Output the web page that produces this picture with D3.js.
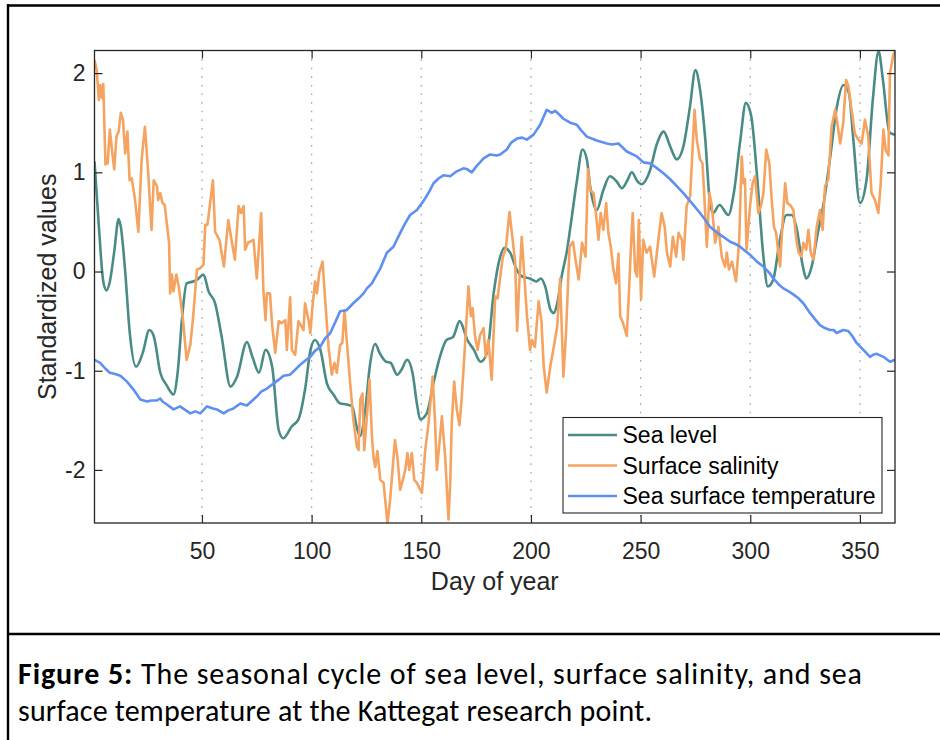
<!DOCTYPE html>
<html>
<head>
<meta charset="utf-8">
<script src="https://cdn.jsdelivr.net/npm/d3@7/dist/d3.min.js"></script>
<style>
  body { margin: 0; background: #fff; }
  svg { display: block; }
</style>
</head>
<body>
<svg id="fig" width="940" height="740"></svg>
<script>
// ---- data: [day of year, standardized value] ----
const seriesNames = ["Sea level", "Surface salinity", "Sea surface temperature"];
const xTicks = [50, 100, 150, 200, 250, 300, 350];
const yTicks = [-2, -1, 0, 1, 2];

const seaLevel = [
  [1,1.11],[3,0.45],[5,-0.1],[6.5,-0.19],[8,-0.1],[10,0.2],[12,0.53],[13,0.45],[15,0.0],
  [17,-0.6],[20,-0.96],[23,-0.82],[26,-0.59],[28,-0.65],[31,-1.02],[34,-1.15],[37,-1.24],
  [39,-1.0],[41,-0.45],[43,-0.12],[46,-0.10],[48,-0.08],[50.7,-0.03],[53,-0.20],[56,-0.32],
  [59,-0.66],[63,-1.16],[66,-1.06],[70.5,-0.71],[73,-0.86],[76,-1.02],[79,-0.79],[82,-0.96],
  [85,-1.6],[87,-1.68],[91,-1.56],[94,-1.49],[97,-1.19],[99.5,-0.79],[101.5,-0.69],[104,-0.79],
  [107,-1.13],[110,-1.24],[113,-1.33],[116,-1.34],[118.5,-1.36],[120.5,-1.56],[122,-1.66],
  [124.5,-1.39],[126.5,-0.96],[129,-0.73],[131,-0.82],[134,-0.91],[136,-0.92],[139,-1.04],
  [141,-0.99],[143.5,-0.89],[146,-1.02],[148,-1.33],[149.5,-1.49],[152.5,-1.43],[155.5,-1.13],
  [158.5,-0.86],[161.5,-0.69],[164.5,-0.66],[167.5,-0.50],[171,-0.69],[174,-0.79],[177,-0.91],
  [180,-0.82],[183,-0.22],[186,0.15],[188,0.24],[190.5,0.19],[193.5,0.02],[196,-0.05],
  [199.5,-0.07],[202.5,-0.10],[204.5,-0.07],[206.5,-0.15],[209,-0.39],[210.5,-0.42],[212,-0.32],
  [214,-0.05],[216.5,0.22],[218,0.45],[221,0.92],[223.5,1.23],[225.5,1.13],[227,0.86],[230,0.62],
  [233,0.82],[236,0.96],[239,0.91],[241.5,0.84],[244,0.92],[246,1.00],[248.5,0.91],[250.5,0.88],
  [254,1.00],[257.5,1.29],[260.5,1.41],[263.5,1.26],[266.5,1.13],[269.5,1.26],[272.5,1.66],
  [275,2.03],[277,1.85],[279.5,1.33],[281.5,0.72],[283,0.59],[286,0.67],[290,0.57],[292.5,0.79],
  [295.5,1.33],[298,1.70],[300.5,1.56],[303,0.99],[306,0.15],[308,-0.15],[310.5,-0.08],
  [313.5,0.32],[316.5,0.57],[319,0.57],[321,0.45],[324,0.05],[325.5,-0.07],[328,0.05],
  [330.5,0.35],[333.5,0.69],[336.5,1.16],[339.5,1.66],[342.5,1.88],[345,1.80],[347,1.33],
  [350,0.69],[353,0.92],[356,1.76],[358.5,2.22],[360.5,1.93],[363.5,1.40],[366,1.38]
];

const salinity = [
  [1,2.13],[2,2.03],[3,1.73],[3.6,1.88],[4.4,1.75],[5,1.89],[6,1.08],[7,1.09],[8,1.43],[9,1.22],
  [10,1.03],[11,1.36],[12,1.41],[13,1.60],[14,1.53],[15,1.19],[16,1.41],[17,0.92],[18,0.94],
  [19.5,0.72],[21,0.40],[22.5,1.13],[24,1.46],[25.5,0.99],[27,0.42],[28,0.92],[29.5,0.86],
  [30,0.72],[31,0.79],[32,0.69],[33,0.67],[35,0.29],[35.5,-0.22],[36.3,-0.03],[37,-0.20],
  [38.3,-0.03],[39.4,-0.15],[40,-0.25],[41.5,-0.52],[43,-0.89],[44.7,-0.74],[46,-0.45],
  [47.7,0.02],[49,0.03],[50.7,0.07],[51.5,0.47],[52.5,0.47],[55,0.92],[56,0.40],[58,0.32],
  [60,0.05],[62,0.52],[63.7,0.29],[65,0.12],[66.7,0.66],[67.8,0.59],[69,0.66],[69.7,0.22],
  [71,0.29],[73.5,0.32],[75,-0.07],[77,0.59],[78,-0.19],[79,-0.49],[79.6,-0.22],[81,-0.22],
  [82,-0.54],[83.4,-0.82],[85,-0.50],[86.4,-0.52],[88,-0.49],[88.7,-0.79],[90.2,-0.26],
  [91,-0.79],[92.5,-0.84],[94,-0.5],[96.3,-0.59],[97,-0.32],[98.6,-0.49],[99.4,-0.62],
  [100.4,-0.35],[101.6,-0.10],[102.4,-0.22],[103.6,0.0],[105,0.10],[106.2,-0.29],[107.7,-0.76],
  [109.2,-1.04],[110.4,-0.92],[111.5,-1.02],[113,-0.74],[114,-0.72],[115,-0.39],[116,-0.69],
  [117.6,-1.13],[119,-1.49],[120.6,-1.76],[121.4,-1.80],[122.2,-1.29],[123.2,-1.23],[124,-1.80],
  [125.2,-1.46],[126.4,-1.09],[127.5,-1.66],[128.2,-1.87],[129,-1.97],[130,-1.81],[131.3,-2.10],
  [132.8,-2.13],[134.6,-2.54],[135.8,-2.30],[137,-1.97],[138,-1.70],[139.1,-1.87],[140.4,-2.20],
  [141.6,-2.10],[142.7,-2.00],[143.7,-1.83],[144.5,-2.0],[145.7,-1.83],[146.8,-2.1],[148,-2.13],
  [149.5,-2.20],[150.3,-2.23],[151.8,-1.80],[153.3,-1.53],[155.2,-1.06],[156.3,-1.53],
  [157.1,-2.00],[158.3,-1.73],[159.4,-1.46],[160.9,-1.87],[162.4,-2.50],[163.2,-2.13],
  [163.9,-1.53],[165,-1.11],[166.2,-1.39],[167.4,-1.55],[168.4,-1.29],[170,-0.72],[171.5,-0.15],
  [172.6,-0.45],[173.4,-0.37],[174.5,-0.65],[175.7,-0.79],[176.8,-0.64],[178.4,-0.57],
  [179.4,-0.86],[180.6,-0.69],[182.1,-1.09],[183.7,-0.25],[184.8,-0.27],[186,-0.05],
  [187.2,0.15],[188.5,0.22],[190.2,0.60],[191.3,0.39],[192.8,0.10],[193.7,-0.60],[194.5,-0.20],
  [195.8,0.35],[197,-0.05],[198.2,-0.45],[199.6,-0.79],[200.5,-0.69],[201.8,-0.76],[203.5,-0.30],
  [204.8,-0.50],[205.8,-0.95],[207.2,-1.22],[208.8,-0.96],[210.5,-0.75],[212,-0.55],[213.3,-0.07],
  [214.8,-1.06],[216,-0.62],[217.6,0.25],[219.2,0.30],[220.3,0.12],[221.8,-0.08],[223.3,0.29],
  [224.9,0.15],[226,1.03],[227.1,0.82],[228.6,0.79],[229.8,0.55],[230.8,0.32],[231.8,0.59],
  [233,0.42],[234.3,0.69],[235.3,0.39],[236.4,0.25],[237.6,0.02],[238.8,-0.12],[239.9,0.18],
  [240.7,-0.45],[242,-0.52],[243.7,-0.65],[244.5,-0.30],[245.5,0.20],[246.4,0.59],[247.5,0.01],
  [248.4,-0.05],[249.2,0.52],[250.2,-0.28],[251.2,0.32],[252.7,0.19],[254.3,0.25],[256.2,-0.05],
  [258,0.30],[259.6,0.59],[261,0.45],[262,0.19],[263.5,0.05],[264.7,0.35],[266.2,0.15],
  [267.3,0.39],[268.8,0.32],[269.5,0.12],[271,0.66],[272.6,0.76],[274.6,1.63],[275.6,1.33],
  [277.1,1.13],[278.2,1.09],[278.9,0.82],[280.2,0.25],[281.4,0.79],[282.5,0.66],[284,0.29],
  [285.5,0.45],[287,0.15],[288.5,0.05],[289.3,0.19],[290.3,0.02],[291.7,0.10],[293.5,-0.10],
  [295,0.32],[296.1,1.16],[296.9,0.89],[297.6,0.93],[298.3,0.22],[299.9,0.66],[301.1,0.89],
  [302.2,0.96],[303.7,0.59],[304.9,0.66],[306,0.79],[307.3,1.23],[308.7,1.09],[309.8,0.72],
  [310.8,0.45],[311.8,0.39],[312.8,0.19],[313.6,0.05],[314.5,0.40],[315.9,0.89],[316.9,0.69],
  [318.2,0.67],[319.7,0.62],[321,0.32],[322.1,0.19],[323.3,0.15],[324.2,0.29],[325.5,0.22],
  [326.5,0.42],[327.6,0.19],[328.8,0.12],[330.3,0.45],[331.8,0.62],[333,0.42],[334.1,0.86],
  [335.6,0.93],[337.1,1.46],[338.7,1.63],[339.7,1.50],[341,1.29],[342.4,1.50],[343.7,1.93],
  [344.7,1.87],[346.2,1.63],[347.7,1.39],[349.3,1.33],[350.8,1.29],[352.3,1.53],[353.8,1.36],
  [355.3,0.79],[356.9,0.72],[358.4,0.59],[359.5,0.89],[360.7,1.43],[361.8,1.22],[363,1.17],
  [363.7,2.00],[365.2,2.18],[366,2.22]
];

const temperature = [
  [1,-0.89],[3.6,-0.92],[6,-0.98],[8,-1.02],[10,-1.03],[12.8,-1.05],[15.8,-1.11],[18.8,-1.19],
  [21.9,-1.29],[24.9,-1.31],[27,-1.30],[29.5,-1.30],[31,-1.28],[32,-1.31],[34,-1.34],[37,-1.39],
  [40,-1.36],[42,-1.39],[44.7,-1.43],[47,-1.41],[49.2,-1.43],[52.3,-1.36],[55,-1.38],[56.8,-1.39],
  [59.9,-1.43],[62,-1.40],[64.4,-1.38],[67.5,-1.33],[70.5,-1.35],[73,-1.30],[75,-1.26],[77,-1.21],
  [79.6,-1.18],[82.6,-1.13],[85,-1.09],[87.2,-1.05],[90.2,-1.04],[92.5,-0.99],[94.8,-0.94],
  [97,-0.90],[99.4,-0.86],[101.5,-0.80],[103.9,-0.76],[106,-0.68],[108.5,-0.62],[111,-0.50],
  [113,-0.40],[116,-0.39],[119,-0.32],[121.5,-0.27],[123.7,-0.22],[125.2,-0.17],[127.5,-0.12],
  [129.5,-0.04],[131.3,0.03],[134.3,0.19],[137.3,0.25],[140.4,0.39],[142.5,0.48],[144.9,0.57],
  [148,0.62],[151,0.71],[153.5,0.80],[155.6,0.89],[158,0.94],[160.1,0.97],[163.2,0.96],
  [166.2,1.01],[169.2,1.04],[171,1.03],[173,1.00],[175.5,1.07],[178.4,1.14],[181.4,1.18],
  [184.4,1.17],[186,1.18],[189,1.23],[191,1.30],[193.6,1.34],[196,1.35],[198.1,1.33],[201.2,1.38],
  [204.2,1.48],[207.2,1.63],[209.5,1.60],[211,1.62],[213,1.58],[214.8,1.54],[217.9,1.50],
  [220.9,1.48],[223,1.42],[225.5,1.36],[230,1.32],[234.6,1.29],[237,1.28],[239.9,1.29],
  [243.7,1.21],[248.3,1.16],[251.3,1.10],[254.3,1.09],[257,1.05],[260.4,0.99],[263.5,0.93],
  [266.5,0.86],[269.5,0.79],[272.6,0.71],[277.1,0.59],[279.5,0.52],[281.7,0.45],[285,0.39],
  [287.7,0.35],[290.8,0.30],[293,0.28],[295.4,0.25],[297,0.22],[299.9,0.17],[303,0.10],[306,0.05],
  [309,-0.02],[310.5,-0.07],[313,-0.13],[315.1,-0.17],[317.5,-0.20],[319.6,-0.23],[322,-0.27],
  [324.2,-0.32],[327.3,-0.42],[329.5,-0.48],[331.8,-0.54],[334,-0.57],[336.4,-0.59],[338,-0.59],
  [339.4,-0.62],[342.4,-0.59],[344.7,-0.60],[346.5,-0.65],[348.5,-0.72],[351.6,-0.79],
  [354.6,-0.86],[356,-0.84],[357.7,-0.83],[360.7,-0.86],[363.7,-0.91],[366,-0.89]
];

const seriesData = [seaLevel, salinity, temperature];
const seriesColors = ["#4a8b86", "#f5a360", "#5f8ff0"];
const seriesCurves = [d3.curveMonotoneX, d3.curveLinear, d3.curveLinear];

// ---- layout ----
const plot = { left: 94.5, right: 895, top: 50.5, bottom: 523 };
const axisColor = "#262626";
const fontSans = '"Liberation Sans", Arial, Helvetica, sans-serif';

const svg = d3.select("#fig");
svg.append("rect").attr("width", 940).attr("height", 740).attr("fill", "#fff");

// figure frame and caption separator
const frame = svg.append("g").attr("stroke", "#000").attr("stroke-width", 2.4).attr("fill", "none");
frame.append("line").attr("x1", 7).attr("x2", 940).attr("y1", 5.5).attr("y2", 5.5);
frame.append("line").attr("x1", 8).attr("x2", 8).attr("y1", 4.3).attr("y2", 740);
frame.append("line").attr("x1", 8).attr("x2", 940).attr("y1", 634).attr("y2", 634);

const x = d3.scaleLinear().domain([1, 366]).range([plot.left, plot.right]);
const y = d3.scaleLinear().domain([-2.535, 2.228]).range([plot.bottom, plot.top]);

// vertical dotted grid
svg.append("g").selectAll("line").data(xTicks).join("line")
  .attr("x1", d => x(d)).attr("x2", d => x(d))
  .attr("y1", plot.top).attr("y2", plot.bottom)
  .attr("stroke", "#a8a8a8").attr("stroke-width", 1.3)
  .attr("stroke-dasharray", "1.6,7");

// series
svg.append("clipPath").attr("id", "plotClip").append("rect")
  .attr("x", plot.left).attr("y", plot.top)
  .attr("width", plot.right - plot.left).attr("height", plot.bottom - plot.top);

const lines = svg.append("g").attr("clip-path", "url(#plotClip)");
seriesData.forEach((data, i) => {
  const gen = d3.line().x(d => x(d[0])).y(d => y(d[1])).curve(seriesCurves[i]);
  lines.append("path").datum(data)
    .attr("d", gen)
    .attr("fill", "none")
    .attr("stroke", seriesColors[i])
    .attr("stroke-width", 2.6)
    .attr("stroke-linejoin", "round");
});

// axes with inward ticks on all four sides
function styleAxis(g) {
  g.select(".domain").remove();
  g.selectAll(".tick line").attr("stroke", axisColor).attr("stroke-width", 1.2);
}
function styleLabels(g) {
  g.selectAll(".tick text")
    .attr("font-size", 23).attr("font-family", fontSans).attr("fill", axisColor);
}
const hyphenFormat = d => String(d);   // plain hyphen-minus for negative ticks

svg.append("g").attr("transform", `translate(0,${plot.bottom})`)
  .call(d3.axisBottom(x).tickValues(xTicks).tickSizeInner(-8).tickSizeOuter(0).tickPadding(20).tickFormat(hyphenFormat))
  .call(styleAxis).call(styleLabels);
svg.append("g").attr("transform", `translate(0,${plot.top})`)
  .call(d3.axisTop(x).tickValues(xTicks).tickSizeInner(-8).tickSizeOuter(0).tickFormat(""))
  .call(styleAxis);
svg.append("g").attr("transform", `translate(${plot.left},0)`)
  .call(d3.axisLeft(y).tickValues(yTicks).tickSizeInner(-8).tickSizeOuter(0).tickPadding(9).tickFormat(hyphenFormat))
  .call(styleAxis).call(styleLabels);
svg.append("g").attr("transform", `translate(${plot.right},0)`)
  .call(d3.axisRight(y).tickValues(yTicks).tickSizeInner(-8).tickSizeOuter(0).tickFormat(""))
  .call(styleAxis);

// axes box
svg.append("rect")
  .attr("x", plot.left).attr("y", plot.top)
  .attr("width", plot.right - plot.left).attr("height", plot.bottom - plot.top)
  .attr("fill", "none").attr("stroke", axisColor).attr("stroke-width", 1.3);

// axis titles
svg.append("text")
  .attr("x", (plot.left + plot.right) / 2).attr("y", 590)
  .attr("text-anchor", "middle")
  .attr("font-family", fontSans).attr("font-size", 25).attr("fill", axisColor)
  .text("Day of year");
svg.append("text")
  .attr("transform", `translate(56,${(plot.top + plot.bottom) / 2}) rotate(-90)`)
  .attr("text-anchor", "middle")
  .attr("font-family", fontSans).attr("font-size", 25).attr("fill", axisColor)
  .text("Standardized values");

// legend
const legend = svg.append("g");
legend.append("rect")
  .attr("x", 563).attr("y", 417.5).attr("width", 319).attr("height", 95.5)
  .attr("fill", "#fff").attr("stroke", axisColor).attr("stroke-width", 1.1);
const rowY = [435, 465.5, 496];
seriesNames.forEach((name, i) => {
  legend.append("line")
    .attr("x1", 568).attr("x2", 617).attr("y1", rowY[i]).attr("y2", rowY[i])
    .attr("stroke", seriesColors[i]).attr("stroke-width", 2.6);
  legend.append("text")
    .attr("x", 622.5).attr("y", rowY[i]).attr("dy", "0.36em")
    .attr("font-family", fontSans).attr("font-size", 23).attr("fill", "#000")
    .text(name);
});

// caption
const captionFont = 'Carlito, Calibri, Lato, "Open Sans", sans-serif';
const cap1 = svg.append("text").attr("x", 18).attr("y", 684)
  .attr("font-family", captionFont).attr("font-size", 30).attr("fill", "#000")
  .attr("textLength", 844).attr("lengthAdjust", "spacing");
cap1.append("tspan").attr("font-weight", "bold").text("Figure 5:");
cap1.append("tspan").text(" The seasonal cycle of sea level, surface salinity, and sea");
svg.append("text").attr("x", 18).attr("y", 721)
  .attr("font-family", captionFont).attr("font-size", 30).attr("fill", "#000")
  .attr("textLength", 634).attr("lengthAdjust", "spacing")
  .text("surface temperature at the Kattegat research point.");
</script>
</body>
</html>
